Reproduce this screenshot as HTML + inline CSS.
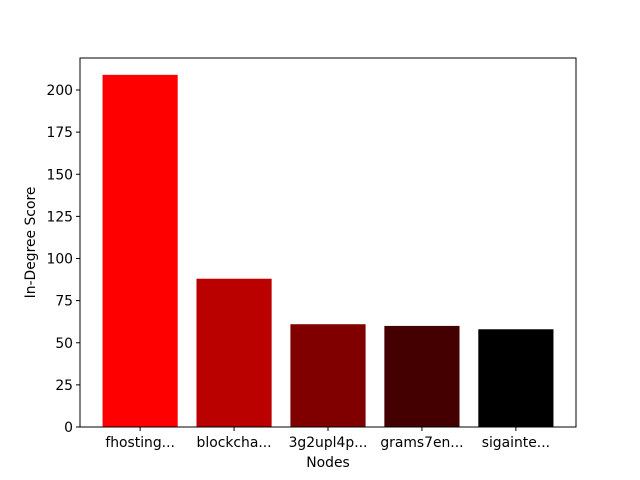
<!DOCTYPE html>
<html><head><meta charset="utf-8"><style>
body{margin:0;background:#fff;}
svg{display:block;font-family:"DejaVu Sans","Liberation Sans",sans-serif;}
</style></head><body>
<svg id="chart" width="640" height="480" viewBox="0 0 640 480">
<rect width="640" height="480" fill="#fff"/>
<g id="bars"></g>
<g id="yticks"></g>
<g id="xticks"></g>
<rect x="80" y="58" width="496" height="369" fill="none" stroke="#000" stroke-width="1"/>
<text x="328" y="467" font-size="13.9" text-anchor="middle">Nodes</text>
<text transform="translate(35,242.5) rotate(-90)" font-size="13.9" text-anchor="middle">In-Degree Score</text>
</svg>
<script>
const categories = ["fhosting...", "blockcha...", "3g2upl4p...", "grams7en...", "sigainte..."];
const values = [209, 88, 61, 60, 58];
const colors = ["#ff0000", "#bb0000", "#800000", "#440000", "#000000"];
const yTicks = [0, 25, 50, 75, 100, 125, 150, 175, 200];

const L = 80, R = 576, T = 58, B = 427;
const n = categories.length;
const xMin = -0.4 - 0.05 * (n - 0.2), xMax = (n - 1) + 0.4 + 0.05 * (n - 0.2);
const unit = (R - L) / (xMax - xMin);
const yScale = v => B - v * (B - 90) / 200;
const xScale = i => L + (i - xMin) * unit;
const bw = 0.8 * unit;
const NS = "http://www.w3.org/2000/svg";
const bars = document.getElementById("bars");
const yt = document.getElementById("yticks");
const xt = document.getElementById("xticks");

values.forEach((v, i) => {
  const r = document.createElementNS(NS, "rect");
  r.setAttribute("x", xScale(i) - bw / 2);
  r.setAttribute("y", yScale(v));
  r.setAttribute("width", bw);
  r.setAttribute("height", B - yScale(v));
  r.setAttribute("fill", colors[i % colors.length]);
  
  
  bars.appendChild(r);

  const tk = document.createElementNS(NS, "line");
  tk.setAttribute("x1", xScale(i)); tk.setAttribute("x2", xScale(i));
  tk.setAttribute("y1", B); tk.setAttribute("y2", B + 4);
  tk.setAttribute("stroke", "#000");
  
  
  xt.appendChild(tk);

  const t = document.createElementNS(NS, "text");
  t.setAttribute("x", xScale(i)); t.setAttribute("y", B + 20);
  t.setAttribute("font-size", "13.9"); t.setAttribute("text-anchor", "middle");
  t.textContent = categories[i];
  
  
  xt.appendChild(t);
});

yTicks.forEach(v => {
  const y = yScale(v);
  const tk = document.createElementNS(NS, "line");
  tk.setAttribute("x1", L - 4); tk.setAttribute("x2", L);
  tk.setAttribute("y1", y); tk.setAttribute("y2", y);
  tk.setAttribute("stroke", "#000");
  
  
  yt.appendChild(tk);

  const t = document.createElementNS(NS, "text");
  t.setAttribute("x", L - 7); t.setAttribute("y", y + 5);
  t.setAttribute("font-size", "13.9"); t.setAttribute("text-anchor", "end");
  t.textContent = v;
  
  
  yt.appendChild(t);
});
</script>
</body></html>
